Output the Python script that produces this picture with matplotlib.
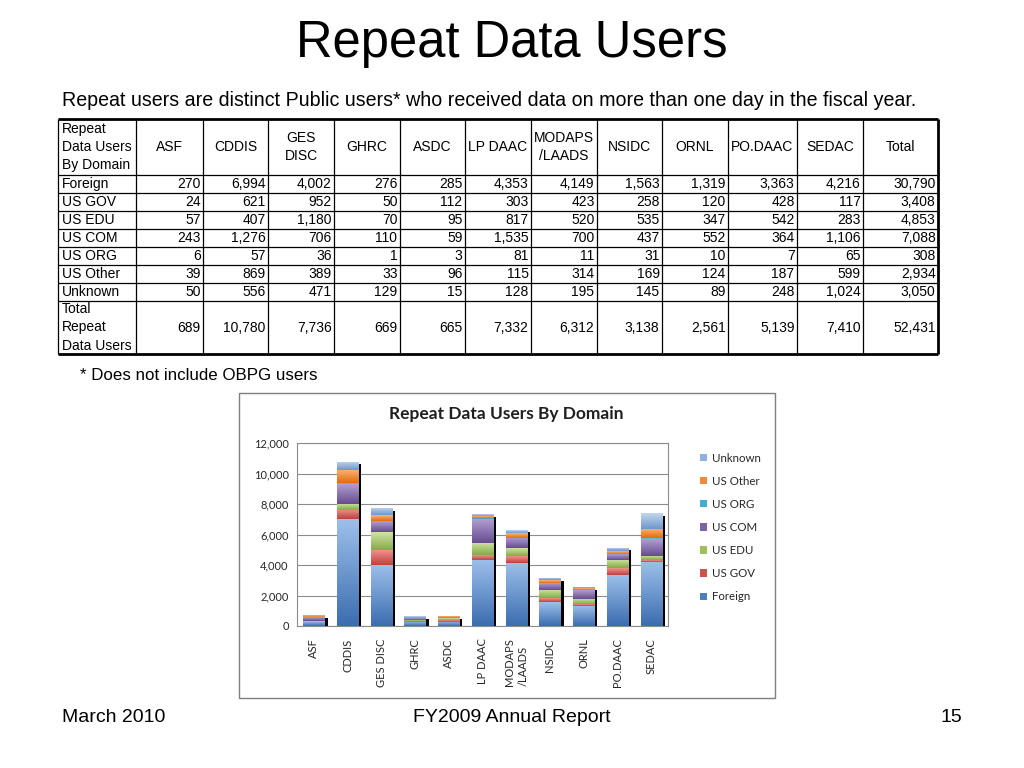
import matplotlib
matplotlib.use("Agg")
import matplotlib.pyplot as plt
import numpy as np
from matplotlib.patches import Rectangle, Patch
from matplotlib.colors import LinearSegmentedColormap

# ---------------- data ----------------
centers = ["ASF", "CDDIS", "GES DISC", "GHRC", "ASDC", "LP DAAC", "MODAPS /LAADS",
           "NSIDC", "ORNL", "PO.DAAC", "SEDAC"]
table_headers = ["ASF", "CDDIS", "GES\nDISC", "GHRC", "ASDC", "LP DAAC", "MODAPS\n/LAADS",
                 "NSIDC", "ORNL", "PO.DAAC", "SEDAC", "Total"]
chart_labels = ["ASF", "CDDIS", "GES DISC", "GHRC", "ASDC", "LP DAAC", "MODAPS\n/LAADS",
                "NSIDC", "ORNL", "PO.DAAC", "SEDAC"]
domains = ["Foreign", "US GOV", "US EDU", "US COM", "US ORG", "US Other", "Unknown"]

foreign  = [270, 6994, 4002, 276, 285, 4353, 4149, 1563, 1319, 3363, 4216]
us_gov   = [24, 621, 952, 50, 112, 303, 423, 258, 120, 428, 117]
us_edu   = [57, 407, 1180, 70, 95, 817, 520, 535, 347, 542, 283]
us_com   = [243, 1276, 706, 110, 59, 1535, 700, 437, 552, 364, 1106]
us_org   = [6, 57, 36, 1, 3, 81, 11, 31, 10, 7, 65]
us_other = [39, 869, 389, 33, 96, 115, 314, 169, 124, 187, 599]
unknown  = [50, 556, 471, 129, 15, 128, 195, 145, 89, 248, 1024]
series = [foreign, us_gov, us_edu, us_com, us_org, us_other, unknown]

yticks = [0, 2000, 4000, 6000, 8000, 10000, 12000]

# colour pairs (dark bottom, light top)
grad_colors = [("#3C6DB0", "#9DC0EA"),
               ("#C0413D", "#F0908E"),
               ("#86AA45", "#CFE3A6"),
               ("#674C8E", "#B09ED0"),
               ("#2E95B0", "#9ED8E8"),
               ("#E46C0A", "#FBB47A"),
               ("#6E97CC", "#C3D6EE")]
legend_colors = ["#4A7EC0", "#D0504D", "#9BC25A", "#7E62A6", "#40AECC", "#F28A3A", "#8EB2DE"]

FONT = "Liberation Sans"
CFONT = "Lato"

fig = plt.figure(figsize=(10.24, 7.68), dpi=100)
fig.patch.set_facecolor("white")

# overlay axes in pixel coords
ov = fig.add_axes([0, 0, 1, 1], zorder=0)
ov.set_xlim(0, 1024)
ov.set_ylim(768, 0)
ov.axis("off")

# title / subtitle / footnote / footer
ov.text(512, 43, "Repeat Data Users", fontsize=36.5, family=FONT, ha="center", va="center")
ov.text(62, 100, "Repeat users are distinct Public users* who received data on more than one day in the fiscal year.",
        fontsize=14.1, family=FONT, ha="left", va="center")
ov.text(80, 375, "* Does not include OBPG users", fontsize=12.2, family=FONT, ha="left", va="center")
ov.text(62, 717, "March 2010", fontsize=14, family=FONT, ha="left", va="center")
ov.text(512, 717, "FY2009 Annual Report", fontsize=14, family=FONT, ha="center", va="center")
ov.text(962, 717, "15", fontsize=14, family=FONT, ha="right", va="center")

# ---------------- table ----------------
col_edges = [58, 136, 203, 268, 334, 400, 465, 531, 597, 662, 728, 797, 863, 938]
row_edges = [119, 175, 193, 211, 229, 247, 265, 283, 301, 354]
tfs = 10.0
lsp = 1.38

for x in col_edges:
    lw = 2.0 if x == col_edges[-1] else 0.9
    ov.plot([x, x], [row_edges[0], row_edges[-1]], color="black", lw=lw, solid_capstyle="butt")
for y in row_edges:
    lw = 2.0 if y in (row_edges[0], row_edges[-1]) else 0.9
    ov.plot([col_edges[0], col_edges[-1]], [y, y], color="black", lw=lw, solid_capstyle="butt")

hy = (row_edges[0] + row_edges[1]) / 2
ov.text(62, hy, "Repeat\nData Users\nBy Domain", fontsize=tfs, family=FONT, ha="left", va="center",
        linespacing=lsp)
for j, h in enumerate(table_headers):
    cx = (col_edges[j + 1] + col_edges[j + 2]) / 2
    ov.text(cx, hy, h, fontsize=tfs, family=FONT, ha="center", va="center", linespacing=lsp,
            multialignment="center")

for i, (dom, vals) in enumerate(zip(domains, series)):
    cy = (row_edges[i + 1] + row_edges[i + 2]) / 2
    ov.text(62, cy, dom, fontsize=tfs, family=FONT, ha="left", va="center")
    row_vals = list(vals) + [sum(vals)]
    for j, v in enumerate(row_vals):
        ov.text(col_edges[j + 2] - 2.5, cy, f"{v:,}", fontsize=tfs, family=FONT, ha="right", va="center")

totals = [sum(s[k] for s in series) for k in range(len(centers))]
cy = (row_edges[-2] + row_edges[-1]) / 2
ov.text(62, cy, "Total\nRepeat\nData Users", fontsize=tfs, family=FONT, ha="left", va="center",
        linespacing=lsp)
for j, v in enumerate(totals + [sum(totals)]):
    ov.text(col_edges[j + 2] - 2.5, cy, f"{v:,}", fontsize=tfs, family=FONT, ha="right", va="center")

# chart frame
ov.add_patch(Rectangle((238.5, 392.5), 536, 305, fill=False, edgecolor="#7F7F7F", lw=1.0))
ov.text(506, 414, "Repeat Data Users By Domain", fontsize=12.5, family=CFONT, weight="bold",
        ha="center", va="center", color="#1F1F1F")

# ---------------- chart ----------------
ax = fig.add_axes([297 / 1024, 1 - 626 / 768, (668 - 297) / 1024, (626 - 443) / 768], zorder=2)
ax.set_facecolor("white")
x = np.arange(len(centers))
w = 0.63
ax.set_yticks(yticks)
ax.set_yticklabels([f"{t:,}" for t in yticks], family=CFONT, fontsize=8, color="#262626")
ax.set_xticks(x)
ax.set_xticklabels(chart_labels, rotation=90, family=CFONT, fontsize=8, color="#262626",
                   va="top", ha="center", multialignment="left")
ax.tick_params(length=0, pad=9, axis="x")
ax.tick_params(length=0, pad=6, axis="y")
ax.grid(axis="y", color="#8C8C8C", lw=0.8)
ax.set_axisbelow(True)
for s in ax.spines.values():
    s.set_color("#8C8C8C")
    s.set_linewidth(0.8)

# shadow bars
ax.bar(x + w / 2 + 0.045, [max(t - 180, 0) for t in totals], width=0.09, color="black", zorder=2)

grad = np.linspace(0, 1, 64).reshape(-1, 1)
bottom = np.zeros(len(centers))
for vals, (c0, c1), lab in zip(series, grad_colors, domains):
    bars = ax.bar(x, vals, width=w, bottom=bottom, color=c0, zorder=3, lw=0)
    cmap = LinearSegmentedColormap.from_list("g", [c0, c1])
    for b in bars:
        x0, y0 = b.get_x(), b.get_y()
        bw, bh = b.get_width(), b.get_height()
        if bh <= 0:
            continue
        im = ax.imshow(grad, extent=[x0, x0 + bw, y0, y0 + bh], origin="lower", cmap=cmap,
                       aspect="auto", zorder=3.5, interpolation="bilinear")
        im.set_clip_path(b)
    bottom += np.array(vals)
ax.set_xlim(-0.5, len(centers) - 0.5)
ax.set_ylim(0, 12000)
ax.set_aspect("auto")

handles = [Patch(facecolor=c, edgecolor="none", label=l) for c, l in zip(legend_colors, domains)]
leg = fig.legend(handles[::-1], domains[::-1], loc="upper left",
                 bbox_to_anchor=(695 / 1024, 1 - 448 / 768), frameon=False,
                 prop={"family": CFONT, "size": 8.3}, handlelength=0.6, handleheight=0.6,
                 handletextpad=0.5, labelspacing=1.05, borderaxespad=0)
for t in leg.get_texts():
    t.set_color("#262626")

fig.savefig("out.png", dpi=100, facecolor="white")
